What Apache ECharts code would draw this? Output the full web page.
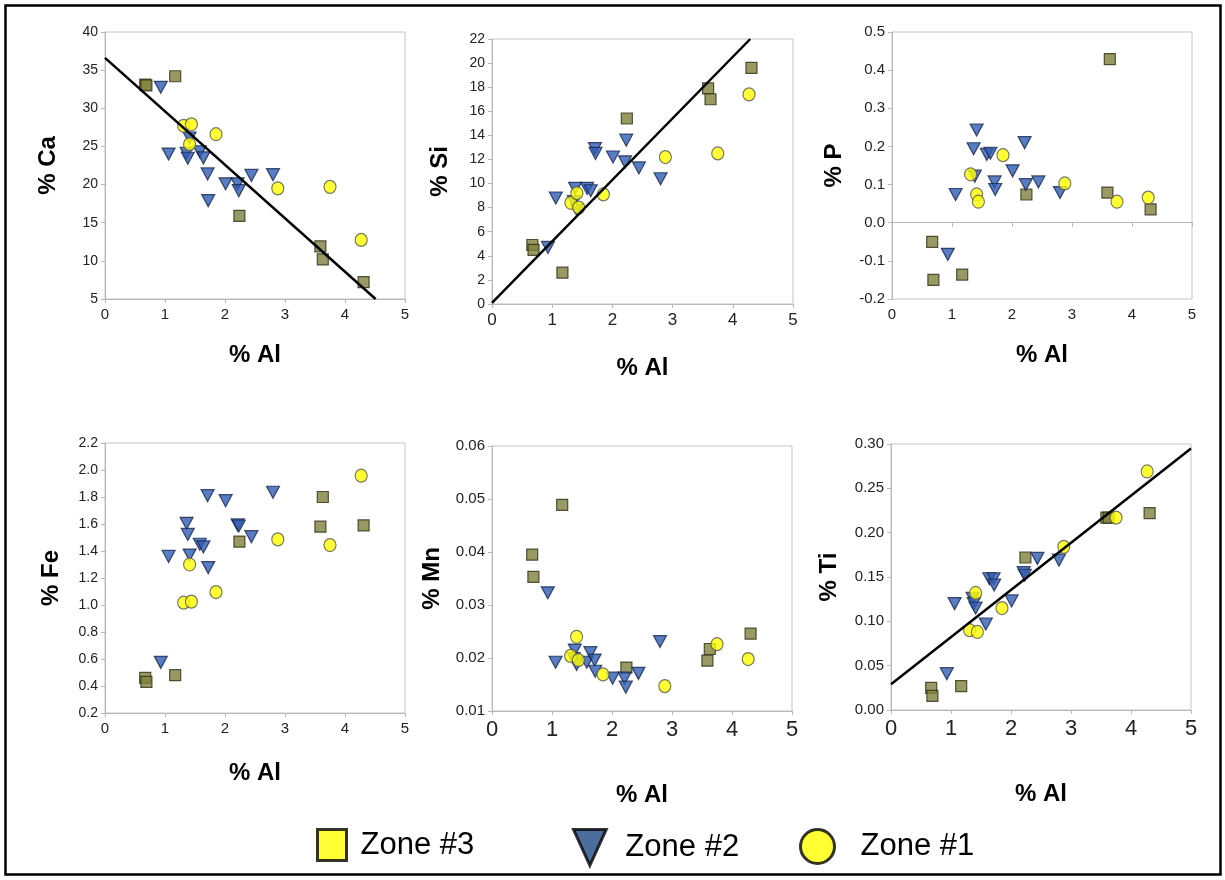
<!DOCTYPE html>
<html>
<head>
<meta charset="utf-8">
<script src="https://cdn.jsdelivr.net/npm/echarts@6/dist/echarts.min.js"></script>
<style>
html,body{margin:0;padding:0;background:#fff;}
#chart{width:1225px;height:880px;}
</style>
</head>
<body>
<div id="chart"></div>
<script>
// Al values (x) for each zone
const AL_Z3 = [0.67, 0.69, 1.17, 2.24, 3.59, 3.63, 4.31];
const AL_Z2 = [0.93, 1.06, 1.36, 1.38, 1.41, 1.58, 1.64, 1.71, 1.72, 2.01, 2.21, 2.23, 2.44, 2.80];
const AL_Z1 = [1.31, 1.41, 1.44, 1.85, 2.88, 3.75, 4.27];

const CA_Z3 = [33.1, 33.0, 34.2, 15.9, 11.9, 10.2, 7.2];
const CA_Z2 = [32.75, 24.0, 24.1, 23.45, 26.1, 24.3, 23.5, 21.4, 17.9, 20.1, 20.1, 19.2, 21.2, 21.3];
const CA_Z1 = [27.7, 25.3, 27.9, 26.6, 19.5, 19.7, 12.75];

const SI_Z3 = [4.9, 4.5, 2.6, 15.4, 17.9, 17.0, 19.6];
const SI_Z2 = [4.7, 8.8, 8.5, 9.6, 7.8, 9.6, 9.4, 12.9, 12.5, 12.2, 11.8, 13.6, 11.3, 10.4];
const SI_Z1 = [8.4, 9.2, 8.0, 9.1, 12.2, 12.5, 17.4];

const P_Z3 = [-0.05, -0.15, -0.136, 0.074, 0.079, 0.429, 0.035];
const P_Z2 = [-0.083, 0.074, 0.194, 0.122, 0.243, 0.179, 0.182, 0.107, 0.087, 0.136, 0.21, 0.10, 0.107, 0.079];
const P_Z1 = [0.127, 0.074, 0.055, 0.177, 0.103, 0.055, 0.066];

const FE_Z3 = [0.46, 0.43, 0.48, 1.47, 1.58, 1.80, 1.59];
const FE_Z2 = [0.575, 1.36, 1.605, 1.523, 1.37, 1.45, 1.43, 1.81, 1.277, 1.773, 1.593, 1.585, 1.506, 1.835];
const FE_Z1 = [1.017, 1.30, 1.025, 1.096, 1.486, 1.444, 1.958];

const MN_Z3 = [0.0395, 0.0353, 0.0489, 0.0182, 0.0195, 0.0217, 0.0246];
const MN_Z2 = [0.0323, 0.0192, 0.0199, 0.0215, 0.0188, 0.0192, 0.0210, 0.0196, 0.0175, 0.0162, 0.0162, 0.0145, 0.0171, 0.0231];
const MN_Z1 = [0.0204, 0.0240, 0.0196, 0.0169, 0.0147, 0.0226, 0.0198];

const TI_Z3 = [0.025, 0.016, 0.027, 0.172, 0.217, 0.217, 0.222];
const TI_Z2 = [0.041, 0.12, 0.126, 0.12, 0.115, 0.097, 0.148, 0.148, 0.141, 0.123, 0.155, 0.152, 0.171, 0.169];
const TI_Z1 = [0.090, 0.132, 0.088, 0.115, 0.184, 0.217, 0.269];

// trend lines (end points)
const CA_TREND = [[0, 36.6], [4.51, 5]];
const SI_TREND = [[0, 0.1], [4.29, 22]];
const TI_TREND = [[0, 0.029], [5, 0.295]];

const Y_TITLES = ['% Ca', '% Si', '% P', '% Fe', '% Mn', '% Ti'];
const X_TITLE = '% Al';
const ZONES = ['Zone #3', 'Zone #2', 'Zone #1'];

const FONT = 'Arial, "Liberation Sans", Helvetica, sans-serif';

const panels = [
  {z3: CA_Z3, z2: CA_Z2, z1: CA_Z1, trend: CA_TREND, min: 5, max: 40, interval: 5, dec: 0,
   grid: {left: 105, top: 32, width: 300, height: 267}, yGap: 45, xGap: 44, yFs: 14, xFs: 15},
  {z3: SI_Z3, z2: SI_Z2, z1: SI_Z1, trend: SI_TREND, min: 0, max: 22, interval: 2, dec: 0,
   grid: {left: 492, top: 39, width: 301, height: 265}, yGap: 40, xGap: 52, yFs: 14, xFs: 17},
  {z3: P_Z3, z2: P_Z2, z1: P_Z1, trend: null, min: -0.2, max: 0.5, interval: 0.1, dec: 1,
   grid: {left: 892, top: 32, width: 300, height: 267}, yGap: 46, xGap: 44, yFs: 15, xFs: 15},
  {z3: FE_Z3, z2: FE_Z2, z1: FE_Z1, trend: null, min: 0.2, max: 2.2, interval: 0.2, dec: 1,
   grid: {left: 105, top: 443, width: 300, height: 270}, yGap: 42, xGap: 48, yFs: 14, xFs: 15},
  {z3: MN_Z3, z2: MN_Z2, z1: MN_Z1, trend: null, min: 0.01, max: 0.06, interval: 0.01, dec: 2,
   grid: {left: 492, top: 446, width: 300, height: 265}, yGap: 48, xGap: 72, yFs: 15, xFs: 22},
  {z3: TI_Z3, z2: TI_Z2, z1: TI_Z1, trend: TI_TREND, min: 0, max: 0.30, interval: 0.05, dec: 2,
   grid: {left: 891, top: 444, width: 300, height: 266}, yGap: 50, xGap: 72, yFs: 15, xFs: 22}
];

const SQUARE = {symbol: 'rect', symbolSize: 11, itemStyle: {color: '#7f7f3c', borderColor: '#2e2e14', borderWidth: 1.2}};
const TRI = {symbol: 'path://M0,0 L20,0 L10,18 Z', symbolSize: [13, 12], itemStyle: {color: '#2f5db3', borderColor: '#16264d', borderWidth: 1.2}};
const CIRC = {symbol: 'circle', symbolSize: [12, 13], itemStyle: {color: '#ffff00', borderColor: '#555', borderWidth: 1.2}};

function pairs(xs, ys) { return xs.map((x, i) => [x, ys[i]]); }

const grids = [], xAxes = [], yAxes = [], series = [];
panels.forEach((p, i) => {
  grids.push(Object.assign({show: true, borderColor: '#c4c4c4', borderWidth: 1, backgroundColor: '#fff'}, p.grid));
  xAxes.push({
    type: 'value', gridIndex: i, min: 0, max: 5, interval: 1,
    name: X_TITLE, nameLocation: 'middle', nameGap: p.xGap,
    nameTextStyle: {fontFamily: FONT, fontSize: 24, fontWeight: 'bold', color: '#000'},
    axisLine: {show: true, lineStyle: {color: '#b8b8b8', width: 1}},
    axisTick: {show: true, inside: false, length: 4, lineStyle: {color: '#b8b8b8'}},
    splitLine: {show: false},
    axisLabel: {fontFamily: FONT, fontSize: p.xFs, color: '#222', margin: 8}
  });
  yAxes.push({
    type: 'value', gridIndex: i, min: p.min, max: p.max, interval: p.interval,
    name: Y_TITLES[i], nameLocation: 'middle', nameGap: p.yGap, nameRotate: 90,
    nameTextStyle: {fontFamily: FONT, fontSize: 24, fontWeight: 'bold', color: '#000'},
    axisLine: {show: true, lineStyle: {color: '#b8b8b8', width: 1}},
    axisTick: {show: true, inside: false, length: 4, lineStyle: {color: '#b8b8b8'}},
    splitLine: {show: false},
    axisLabel: {fontFamily: FONT, fontSize: p.yFs, color: '#222', margin: 7,
      formatter: v => Number(v).toFixed(p.dec)}
  });
  series.push(Object.assign({type: 'scatter', name: ZONES[0], xAxisIndex: i, yAxisIndex: i, data: pairs(AL_Z3, p.z3), z: 3}, SQUARE));
  series.push(Object.assign({type: 'scatter', name: ZONES[1], xAxisIndex: i, yAxisIndex: i, data: pairs(AL_Z2, p.z2), z: 3}, TRI));
  series.push(Object.assign({type: 'scatter', name: ZONES[2], xAxisIndex: i, yAxisIndex: i, data: pairs(AL_Z1, p.z1), z: 3}, CIRC));
  if (p.trend) {
    series.push({type: 'line', name: 'trend', xAxisIndex: i, yAxisIndex: i, data: p.trend,
      showSymbol: false, symbol: 'none', lineStyle: {color: '#000', width: 2.5}, z: 5, silent: true});
  }
});

function legendFor(name, left, icon, style, gap, w, h) {
  return {
    left: left, top: 823, itemWidth: w, itemHeight: h, selectedMode: false,
    data: [{name: name, icon: icon, itemStyle: style}],
    textStyle: {fontFamily: FONT, fontSize: 31, color: '#000', padding: [0, 0, 0, gap]}
  };
}

const option = {
  backgroundColor: '#fff',
  animation: false,
  grid: grids,
  xAxis: xAxes,
  yAxis: yAxes,
  series: series,
  legend: [
    legendFor(ZONES[0], 311, 'rect', {color: '#ffff00', borderColor: '#000', borderWidth: 3}, 9, 29, 31),
    legendFor(ZONES[1], 567, 'path://M0,0 L20,0 L10,22 Z', {color: '#1f4a85', borderColor: '#000', borderWidth: 3}, 14, 33, 36),
    legendFor(ZONES[2], 794, 'circle', {color: '#ffff00', borderColor: '#000', borderWidth: 3}, 21, 34, 36)
  ],
  graphic: [{
    type: 'rect', shape: {x: 5.5, y: 5.5, width: 1215, height: 869},
    style: {fill: 'none', stroke: '#000', lineWidth: 2.5}, silent: true, z: 100
  }]
};

const chart = echarts.init(document.getElementById('chart'), null, {renderer: 'canvas'});
chart.setOption(option);
</script>
</body>
</html>
